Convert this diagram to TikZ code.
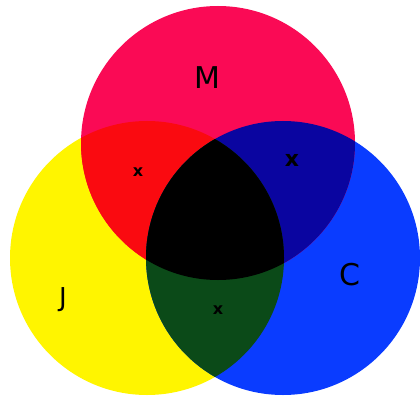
\documentclass[tikz,border=0pt]{standalone}
\usepackage{fontspec}
\setmainfont{DejaVu Sans}
\definecolor{cM}{HTML}{FA0A55}
\definecolor{cJ}{HTML}{FFF500}
\definecolor{cC}{HTML}{0A3CFF}
\definecolor{cMJ}{HTML}{FA0A10}
\definecolor{cMC}{HTML}{0A05A0}
\definecolor{cJC}{HTML}{0B4A18}
\definecolor{cAll}{HTML}{000000}
\tikzset{lbl/.style={text=black,inner sep=0pt,font=\fontsize{30}{32}\selectfont},
 xmark/.style={text=black,inner sep=0pt,font=\bfseries\fontsize{16}{18}\selectfont}}
\begin{document}
\begin{tikzpicture}[x=1pt,y=-1pt]
\useasboundingbox[fill=white] (0,0) rectangle (420,401);
\def\R{137}
\fill[cJ] (147,258) circle (\R);
\fill[cC] (283,258) circle (\R);
\fill[cM] (218,143) circle (\R);
\begin{scope}
 \clip (218,143) circle (\R);
 \fill[cMJ] (147,258) circle (\R);
 \fill[cMC] (283,258) circle (\R);
\end{scope}
\begin{scope}
 \clip (147,258) circle (\R);
 \fill[cJC] (283,258) circle (\R);
 \clip (283,258) circle (\R);
 \fill[cAll] (218,143) circle (\R);
\end{scope}
\node[lbl] (m) at (207,78) {M};
\node[lbl,font=\fontsize{26}{28}\selectfont] (j) at (63,300) {J};
\node[lbl,font=\fontsize{30}{32}\selectfont] (c) at (350,275) {C};
\node[xmark] (x1) at (138,172) {x};
\node[xmark,font=\bfseries\fontsize{22}{24}\selectfont] (x2) at (292,160) {x};
\node[xmark] (x3) at (218,310) {x};
\end{tikzpicture}
\end{document}
